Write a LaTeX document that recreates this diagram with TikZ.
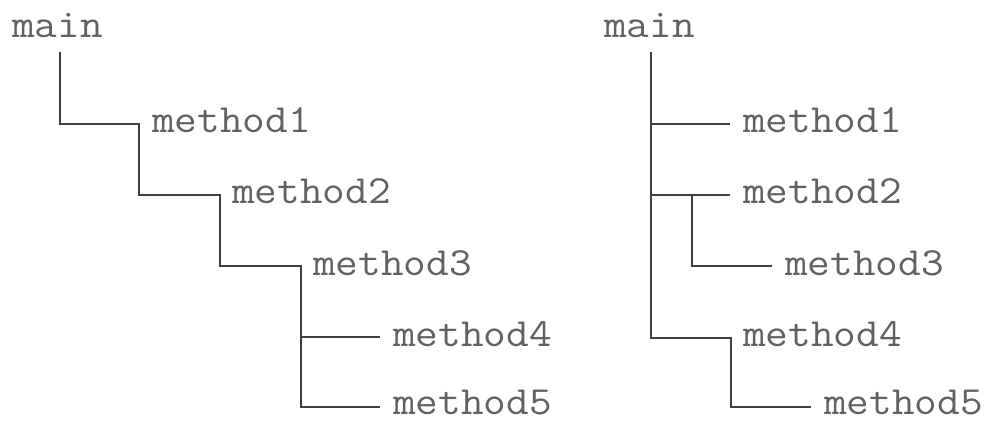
\documentclass[tikz,border=0pt]{standalone}
\usepackage{fontspec}
\newcommand{\wide}[1]{\scalebox{1.1}[1]{#1}}
\begin{document}
\begin{tikzpicture}[x=1pt,y=-1pt,
  lbl/.style={anchor=base west,inner sep=0pt,text=black!62,font=\ttfamily\fontsize{40}{42}\selectfont},
  wire/.style={draw=black!75,line width=2.6pt}]
\useasboundingbox (0,0) rectangle (988,422);
% left tree
\node[lbl] (Lmain) at (12,38) {\wide{main}};
\node[lbl] (L1) at (152,133) {\wide{method1}};
\node[lbl] (L2) at (232,204) {\wide{method2}};
\node[lbl] (L3) at (313,275) {\wide{method3}};
\node[lbl] (L4) at (393,346) {\wide{method4}};
\node[lbl] (L5) at (393,414) {\wide{method5}};
\coordinate (La) at (60,52);
\coordinate (Lb) at (139,124);
\coordinate (Lc) at (220,195);
\coordinate (Ld) at (301,266);
\coordinate (Le) at (380,337);
\coordinate (Lf) at (380,407);
\draw[wire] (La) |- (Lb) |- (Lc) |- (Ld) |- (Le);
\draw[wire] (Ld) |- (Lf);
% right tree
\node[lbl] (Rmain) at (604,38) {\wide{main}};
\node[lbl] (R1) at (743,133) {\wide{method1}};
\node[lbl] (R2) at (743,204) {\wide{method2}};
\node[lbl] (R3) at (785,275) {\wide{method3}};
\node[lbl] (R4) at (743,346) {\wide{method4}};
\node[lbl] (R5) at (824,414) {\wide{method5}};
\coordinate (Ra) at (651,52);
\coordinate (Rb) at (730,124);
\coordinate (Rc) at (730,195);
\coordinate (Rd) at (772,266);
\coordinate (Re) at (731,338);
\coordinate (Rf) at (811,407);
\draw[wire] (Ra) |- (Re) |- (Rf);
\draw[wire] (Ra |- Rb) -- (Rb);
\draw[wire] (Ra |- Rc) -- (Rc);
\draw[wire] (692,195) |- (Rd);
\end{tikzpicture}
\end{document}
